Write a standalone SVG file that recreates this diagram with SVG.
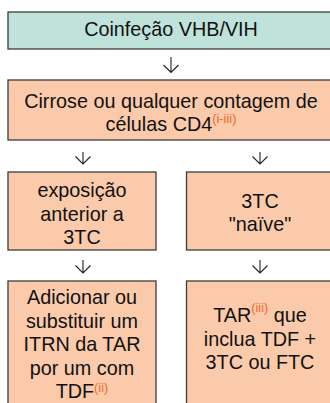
<svg xmlns="http://www.w3.org/2000/svg" width="330" height="403" viewBox="0 0 330 403">
<style>
.b{stroke:#3c3c3c;stroke-width:1.3}
.t{fill:#bfe3db}
.p{fill:#fbcaab}
text{font-family:"Liberation Sans",Arial,sans-serif;font-size:19.8px;fill:#111;text-anchor:middle}
.s{font-size:12.8px;fill:#f26a2a}
.a{stroke:#222;stroke-width:1.1;fill:none}
</style>
<rect width="330" height="403" fill="#fff"/>
<g id="connectors">
<path class="a" d="M171 57V72.5M163.5 65L171 72.5L178.5 65"/>
<path class="a" d="M83 152V164M75.5 156.5L83 164L90.5 156.5"/>
<path class="a" d="M260 152V164M252.5 156.5L260 164L267.5 156.5"/>
<path class="a" d="M83 260V273M75.5 265.5L83 273L90.5 265.5"/>
<path class="a" d="M260 260V273M252.5 265.5L260 273L267.5 265.5"/>
</g>
<g id="n1">
<rect class="b t" x="8" y="12" width="326" height="37"/>
<text x="171" y="36">Coinfeção VHB/VIH</text>
</g>
<g id="n2">
<rect class="b p" x="8" y="80" width="326" height="60"/>
<text x="171" y="107.5">Cirrose ou qualquer contagem de</text>
<text x="171" y="131">células CD4<tspan class="s" dy="-8">(i-iii)</tspan></text>
</g>
<g id="n3">
<rect class="b p" x="8" y="172" width="148" height="78"/>
<text x="82" y="197">exposição</text>
<text x="82" y="220.5">anterior a</text>
<text x="82" y="244">3TC</text>
</g>
<g id="n4">
<rect class="b p" x="186.5" y="172" width="148" height="78"/>
<text x="260" y="207.5">3TC</text>
<text x="260" y="230.5">"naïve"</text>
</g>
<g id="n5">
<rect class="b p" x="8" y="281" width="148" height="130"/>
<text x="82" y="304">Adicionar ou</text>
<text x="82" y="327.5">substituir um</text>
<text x="82" y="351">ITRN da TAR</text>
<text x="82" y="374.5">por um com</text>
<text x="82" y="397.5">TDF<tspan class="s" dy="-6">(ii)</tspan></text>
</g>
<g id="n6">
<rect class="b p" x="186.5" y="281" width="148" height="130"/>
<text x="260" y="322">TAR<tspan class="s" dy="-10">(iii)</tspan><tspan dy="10"> que</tspan></text>
<text x="260" y="345.5">inclua TDF +</text>
<text x="260" y="368.5">3TC ou FTC</text>
</g>
</svg>
